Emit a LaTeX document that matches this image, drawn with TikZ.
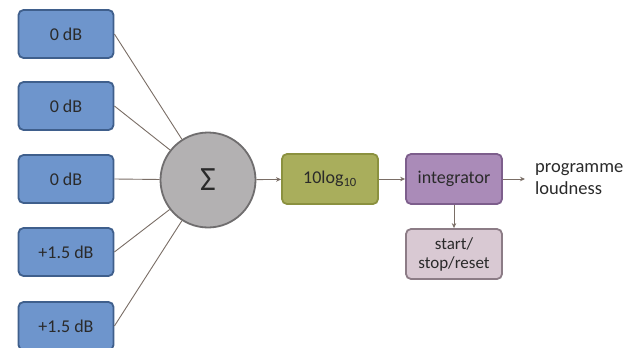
\documentclass[tikz,border=0pt]{standalone}
\usepackage{fontspec}
\setmainfont{Carlito}
\usetikzlibrary{arrows.meta}
\definecolor{gainfill}{HTML}{6E95CC}
\definecolor{gainline}{HTML}{3F5F8C}
\definecolor{sumfill}{HTML}{B3B1B2}
\definecolor{sumline}{HTML}{6F6D6E}
\definecolor{logfill}{HTML}{A9AE5C}
\definecolor{logline}{HTML}{8B913F}
\definecolor{intfill}{HTML}{AA8BB8}
\definecolor{intline}{HTML}{7D5E8C}
\definecolor{ctlfill}{HTML}{D9C9D3}
\definecolor{ctlline}{HTML}{8C7C86}
\definecolor{wire}{HTML}{7A6E66}
\definecolor{ink}{HTML}{2A2A2A}
\begin{document}
\begin{tikzpicture}[x=1pt,y=-1pt,
  every node/.style={font=\fontsize{18}{21}\selectfont, text=ink},
  gain/.style={draw=gainline, fill=gainfill, line width=1.8pt, rounded corners=5pt,
    minimum width=95pt, minimum height=48pt, inner sep=0pt},
  block/.style={line width=1.8pt, rounded corners=5pt,
    minimum width=96pt, minimum height=50pt, inner sep=0pt, align=center},
  wireline/.style={draw=wire, line width=0.9pt},
  flow/.style={draw=wire, line width=0.9pt, -{Stealth[length=5pt,width=4.5pt]}}]
\useasboundingbox (0,0) rectangle (635,348);
\fill[white] (0,0) rectangle (635,348);

% input gain stages
\node[gain] (g1) at (66,34) {0 dB};
\node[gain] (g2) at (66,106) {0 dB};
\node[gain] (g3) at (66,179) {0 dB};
\node[gain] (g4) at (66,252) {+1.5 dB};
\node[gain] (g5) at (66,326) {+1.5 dB};

% summing junction
\node[circle, draw=sumline, fill=sumfill, line width=1.8pt, minimum size=95pt,
  inner sep=0pt, font=\fontsize{34}{36}\selectfont] (sum) at (208,180) {Σ};

% processing chain
\node[block, draw=logline, fill=logfill] (log) at (330,179) {10log\textsubscript{10}};
\node[block, draw=intline, fill=intfill] (int) at (454,179) {integrator};
\node[block, draw=ctlline, fill=ctlfill, font=\fontsize{17}{19}\selectfont] (ctl) at (454,254) {start/\\stop/reset};
\node[anchor=west, align=left, inner sep=0pt, font=\fontsize{18.5}{22}\selectfont] (out) at (535,179) {programme\\loudness};

% connections
\foreach \g in {g1,g2,g3,g4,g5}
  \draw[wireline] (\g.east) -- (sum);
\draw[flow] (sum) -- (log);
\draw[flow] (log) -- (int);
\draw[flow] (int) -- ([xshift=-10pt]out.west);
\draw[flow] (int) -- (ctl);
\end{tikzpicture}
\end{document}
